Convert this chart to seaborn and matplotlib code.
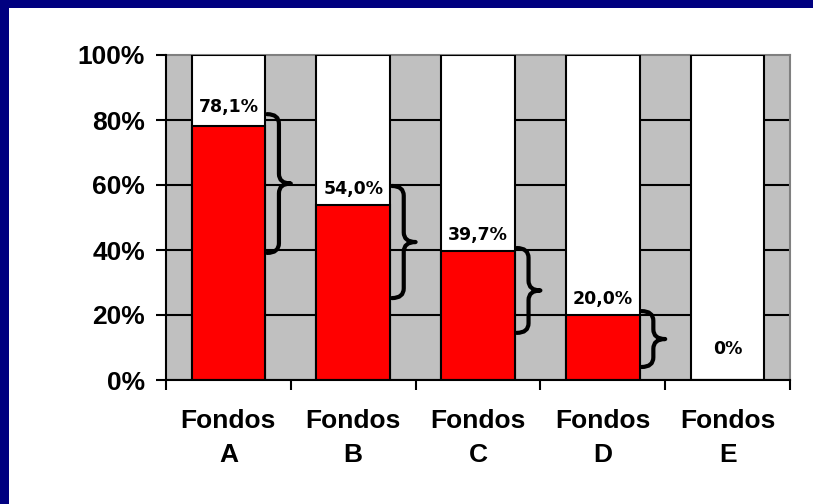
import numpy as np
import pandas as pd
import matplotlib
matplotlib.use("Agg")
import matplotlib.pyplot as plt
import seaborn as sns
from matplotlib.path import Path
from matplotlib.patches import PathPatch, Rectangle

# data
categories = ["Fondos\nA", "Fondos\nB", "Fondos\nC", "Fondos\nD", "Fondos\nE"]
shares = [78.1, 54.0, 39.7, 20.0, 0.0]
value_labels = ["78,1%", "54,0%", "39,7%", "20,0%", "0%"]
brace_top = [81.8, 59.7, 40.6, 21.2]
brace_bottom = [39.1, 25.2, 14.5, 4.0]

# styling only
label_lift = [7, 5, 5, 5, 16]

df = pd.DataFrame({"fondo": categories, "share": shares, "total": 100.0})

plt.rcParams["font.family"] = ["Liberation Sans", "DejaVu Sans"]

fig = plt.figure(figsize=(8.13, 5.04), dpi=100)
fig.patch.set_facecolor("white")
ax = fig.add_axes([166 / 813, 1 - 380 / 504, 624 / 813, 325 / 504])
ax.set_facecolor("#C0C0C0")

sns.barplot(data=df, x="fondo", y="total", color="white", edgecolor="black",
            linewidth=1.5, width=0.59, saturation=1, ax=ax)
sns.barplot(data=df, x="fondo", y="share", color="#FF0000", edgecolor="black",
            linewidth=1.5, width=0.59, saturation=1, ax=ax)

ax.set_xlim(-0.5, 4.5)
ax.set_ylim(0, 100)
ax.set_xlabel("")
ax.set_ylabel("")

# category ticks sit between the bars, labels in the middle
ax.set_xticks(np.arange(-0.5, 5, 1))
ax.set_xticklabels([])
ax.set_xticks(np.arange(5), minor=True)
ax.set_xticklabels(categories, minor=True, fontsize=19, fontweight="bold", linespacing=1.5)
ax.tick_params(axis="x", which="minor", length=0, pad=21)

ax.set_yticks(range(0, 101, 20))
ax.set_yticklabels([f"{v}%" for v in range(0, 101, 20)], fontsize=19, fontweight="bold")
ax.tick_params(axis="both", which="major", direction="out", length=7, width=1.5, color="black")
ax.tick_params(axis="y", pad=8)

ax.set_axisbelow(True)
ax.yaxis.grid(True, color="black", linewidth=1.5)
ax.yaxis.get_gridlines()[-1].set_visible(False)

for side in ["left", "bottom"]:
    ax.spines[side].set_color("black")
    ax.spines[side].set_linewidth(1.5)
for side in ["top", "right"]:
    ax.spines[side].set_color("#808080")
    ax.spines[side].set_linewidth(1.5)
    ax.spines[side].set_zorder(0.6)

for i, (v, lab) in enumerate(zip(shares, value_labels)):
    ax.annotate(lab, (i, v), xytext=(0, label_lift[i]), textcoords="offset points",
                ha="center", va="bottom", fontsize=12.5, fontweight="bold",
                family="DejaVu Sans", color="black", zorder=5)


def brace(ax, x0, x1, ytop, ybot):
    xs = (x0 + x1) / 2
    ytip = (ytop + ybot) / 2
    d = 3.0
    verts = [(x0, ytop), (xs, ytop), (xs, ytop - d),
             (xs, ytip + d), (xs, ytip), (x1, ytip),
             (xs, ytip), (xs, ytip - d),
             (xs, ybot + d), (xs, ybot), (x0, ybot)]
    codes = [Path.MOVETO, Path.CURVE3, Path.CURVE3,
             Path.LINETO, Path.CURVE3, Path.CURVE3,
             Path.CURVE3, Path.CURVE3,
             Path.LINETO, Path.CURVE3, Path.CURVE3]
    ax.add_patch(PathPatch(Path(verts, codes), facecolor="none", edgecolor="black",
                           linewidth=3, capstyle="round", joinstyle="round", zorder=6))


for i, (t, b) in enumerate(zip(brace_top, brace_bottom)):
    brace(ax, i + 0.31, i + 0.50, t, b)

# blue frame on the left and top edges
fig.patches.append(Rectangle((0, 0), 9 / 813, 1, transform=fig.transFigure,
                             facecolor="#000080", edgecolor="none", zorder=10))
fig.patches.append(Rectangle((0, 1 - 8 / 504), 1, 8 / 504, transform=fig.transFigure,
                             facecolor="#000080", edgecolor="none", zorder=10))

fig.savefig("out.png", dpi=100)
